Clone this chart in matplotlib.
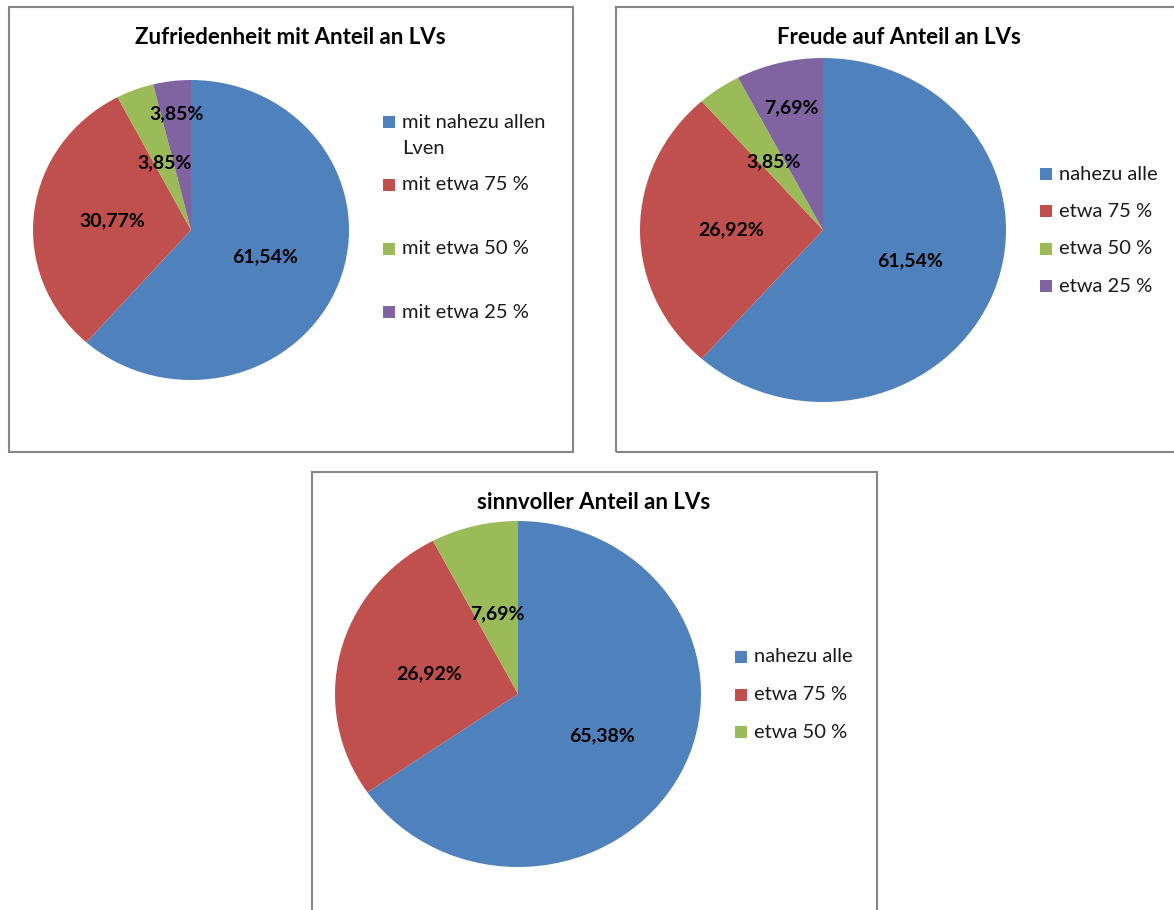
import numpy as np
import matplotlib
matplotlib.use('Agg')
import matplotlib.pyplot as plt
from matplotlib.patches import Rectangle

plt.rcParams['font.family'] = ['Lato', 'DejaVu Sans']

# ==================== Data ====================
colors = ['#4F81BD', '#C0504D', '#9BBB59', '#8064A2']

title1 = 'Zufriedenheit mit Anteil an LVs'
labels1 = ['mit nahezu allen\nLven', 'mit etwa 75 %', 'mit etwa 50 %', 'mit etwa 25 %']
values1 = [61.54, 30.77, 3.85, 3.85]

title2 = 'Freude auf Anteil an LVs'
labels2 = ['nahezu alle', 'etwa 75 %', 'etwa 50 %', 'etwa 25 %']
values2 = [61.54, 26.92, 3.85, 7.69]

title3 = 'sinnvoller Anteil an LVs'
labels3 = ['nahezu alle', 'etwa 75 %', 'etwa 50 %']
values3 = [65.38, 26.92, 7.69]

W, H = 1174, 910
fig = plt.figure(figsize=(W / 100, H / 100), dpi=100)


def px_rect(x0, y0, x1, y1):
    # pixel box (top-left origin) -> figure fraction [l, b, w, h]
    return [x0 / W, 1 - y1 / H, (x1 - x0) / W, (y1 - y0) / H]


def frame(x0, y0, x1, y1):
    fig.add_artist(Rectangle((x0 / W, 1 - y1 / H), (x1 - x0) / W, (y1 - y0) / H,
                             transform=fig.transFigure, fill=False,
                             edgecolor='#868686', linewidth=1.5))


def draw_pie(center, rx, ry, values, label_dist, title, title_xy):
    cx, cy = center
    ax = fig.add_axes(px_rect(cx - rx, cy - ry, cx + rx, cy + ry))
    wedges, _ = ax.pie(values, colors=colors[:len(values)], startangle=90,
                       counterclock=False, radius=1,
                       wedgeprops=dict(linewidth=0))
    ax.set_aspect('auto')
    ax.set_xlim(-1, 1)
    ax.set_ylim(-1, 1)
    ax.axis('off')
    for w, v, d in zip(wedges, values, label_dist):
        ang = np.deg2rad((w.theta1 + w.theta2) / 2)
        ax.text(d * np.cos(ang), d * np.sin(ang), f'{v:.2f}%'.replace('.', ','),
                ha='center', va='center', fontsize=14, fontweight='bold',
                color='black')
    fig.text(title_xy[0] / W, 1 - title_xy[1] / H, title, ha='center',
             va='center', fontsize=16, fontweight='bold')


def draw_legend(x, ys, labels):
    for y, lab, c in zip(ys, labels, colors):
        fig.add_artist(Rectangle((x / W, 1 - (y + 6) / H), 12 / W, 12 / H,
                                 transform=fig.transFigure, color=c, linewidth=0))
        fig.text((x + 19) / W, 1 - y / H, lab.split('\n')[0], ha='left',
                 va='center', fontsize=14.5, color='#1a1a1a')
        if '\n' in lab:
            fig.text((x + 19) / W, 1 - (y + 26) / H, lab.split('\n')[1],
                     ha='left', va='center', fontsize=14.5, color='#1a1a1a')


# ==================== Chart 1 ====================
frame(9, 7, 573, 452)
draw_pie((191, 230), 158, 150, values1, [0.5, 0.5, 0.48, 0.78], title1, (290, 38))
draw_legend(383, [122, 185, 249, 312], labels1)

# ==================== Chart 2 ====================
frame(616, 7, 1180, 452)
draw_pie((823, 230), 183, 172, values2, [0.51, 0.5, 0.48, 0.73], title2, (899, 38))
draw_legend(1040, [174, 211, 249, 286], labels2)

# ==================== Chart 3 ====================
frame(312, 472, 877, 920)
draw_pie((518, 694), 183, 173, values3, [0.52, 0.5, 0.48], title3, (594, 502))
draw_legend(735, [657, 695, 732], labels3)

fig.savefig('out.png', dpi=100)
